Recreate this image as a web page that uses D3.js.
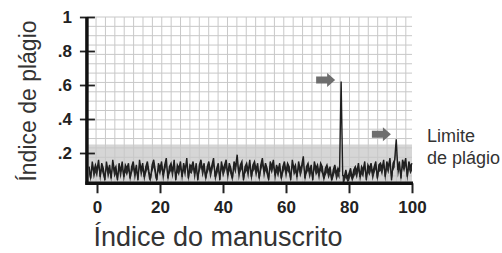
<!DOCTYPE html>
<html>
<head>
<meta charset="utf-8">
<script src="https://cdn.jsdelivr.net/npm/d3@7"></script>
<style>
  body { margin: 0; background: #fff; }
  text { font-family: "Liberation Sans", Arial, sans-serif; }
</style>
</head>
<body>
<div id="container"></div>
<script>
/* CONSTANTS AND GLOBALS */
const width = 502,
    height = 253

// DATA (one value every half index step from -2.5)
const xStart = -2.5, xStep = 0.5
const plagio = [
    0.12, 0.05, 0.15, 0.09, 0.13,
    0.10, 0.16, 0.06, 0.14, 0.11, 0.04, 0.15, 0.09, 0.13, 0.05, 0.16, 0.10, 0.12, 0.04, 0.14, 0.09, 0.15, 0.06, 0.13, 0.11,
    0.14, 0.05, 0.12, 0.15, 0.08, 0.13, 0.04, 0.16, 0.10, 0.14, 0.06, 0.12, 0.15, 0.09, 0.05, 0.13, 0.16, 0.10, 0.04, 0.14,
    0.11, 0.15, 0.07, 0.13, 0.17, 0.05, 0.12, 0.14, 0.09, 0.16, 0.04, 0.13, 0.11, 0.15, 0.06, 0.14, 0.10, 0.17, 0.05, 0.13,
    0.12, 0.15, 0.08, 0.14, 0.04, 0.13, 0.16, 0.10, 0.14, 0.05, 0.12, 0.15, 0.09, 0.13, 0.17, 0.06, 0.11, 0.14, 0.04, 0.15,
    0.10, 0.13, 0.16, 0.07, 0.14, 0.11, 0.05, 0.15, 0.12, 0.19, 0.08, 0.13, 0.15, 0.04, 0.12, 0.14, 0.09, 0.16, 0.06, 0.13,
    0.15, 0.10, 0.14, 0.05, 0.13, 0.17, 0.09, 0.14, 0.11, 0.04, 0.15, 0.12, 0.16, 0.07, 0.13, 0.10, 0.14, 0.05, 0.12, 0.15,
    0.09, 0.14, 0.12, 0.04, 0.16, 0.11, 0.13, 0.06, 0.15, 0.10, 0.13, 0.18, 0.05, 0.12, 0.14, 0.09, 0.13, 0.04, 0.15, 0.11,
    0.13, 0.08, 0.14, 0.12, 0.05, 0.11, 0.13, 0.09, 0.12, 0.04, 0.10, 0.13, 0.08, 0.11, 0.09, 0.62, 0.07, 0.06, 0.10, 0.05,
    0.08, 0.11, 0.05, 0.10, 0.12, 0.09, 0.14, 0.06, 0.12, 0.10, 0.15, 0.04, 0.13, 0.11, 0.14, 0.08, 0.12, 0.15, 0.05, 0.13,
    0.14, 0.11, 0.16, 0.06, 0.15, 0.12, 0.17, 0.04, 0.14, 0.16, 0.28, 0.10, 0.15, 0.05, 0.16, 0.13, 0.17, 0.06, 0.15, 0.12,
    0.14
]
const xTicks = [0, 20, 40, 60, 80, 100]
const yTicks = [0.2, 0.4, 0.6, 0.8, 1]
const yTickLabels = [".2", ".4", ".6", ".8", "1"]
const limite = 0.25
const arrows = [{ x: 75.6, y: 0.63 }, { x: 93.3, y: 0.31 }]

const data = plagio.map((v, i) => ({ idx: xStart + i * xStep, value: v }))

//SCALE
const xScale = d3.scaleLinear()
    .domain([0, 100])
    .range([97, 412])

const yScale = d3.scaleLinear()
    .domain([0, 1])
    .range([187, 17])

const axisX = xScale(-3.2)
const axisY = yScale(0.022)
const right = xScale(100)

//SVG
const svg = d3.select("#container")
    .append("svg")
    .attr("width", width)
    .attr("height", height)
    .style("background-color", "white")

// SHADED BAND (limite de plagio)
svg.append("rect")
    .attr("x", axisX)
    .attr("y", yScale(limite))
    .attr("width", right - axisX)
    .attr("height", axisY - yScale(limite))
    .attr("fill", "#d6d6d6")

// GRID
const gridX = d3.range(-0.3, 99, 2.98)
const gridY = d3.range(1, 0.02, -0.055)

svg.append("g")
    .selectAll("line")
    .data(gridX)
    .join("line")
    .attr("x1", d => xScale(d))
    .attr("x2", d => xScale(d))
    .attr("y1", yScale(1))
    .attr("y2", axisY)
    .attr("stroke", "#c8c8c8")
    .attr("stroke-width", 1)

svg.append("g")
    .selectAll("line")
    .data(gridY)
    .join("line")
    .attr("x1", axisX)
    .attr("x2", right)
    .attr("y1", d => yScale(d))
    .attr("y2", d => yScale(d))
    .attr("stroke", "#c8c8c8")
    .attr("stroke-width", 1)

// DATA: dark ribbon under the jagged line, then the line itself
const ribbon = d3.area()
    .x(d => xScale(d.idx))
    .y0(d => yScale(Math.max(d.value - 0.045, 0.03)))
    .y1(d => yScale(d.value))

svg.append("path")
    .datum(data)
    .attr("d", ribbon)
    .attr("fill", "#2a2a2a")

const line = d3.line()
    .x(d => xScale(d.idx))
    .y(d => yScale(d.value))

svg.append("path")
    .datum(data)
    .attr("d", line)
    .attr("fill", "none")
    .attr("stroke", "#1e1e1e")
    .attr("stroke-width", 1.4)

// ARROWS
svg.append("g")
    .selectAll("path")
    .data(arrows)
    .join("path")
    .attr("transform", d => "translate(" + xScale(d.x) + "," + yScale(d.y) + ")")
    .attr("d", "M0,0 L-8,-7 L-8,-3.5 L-19,-3.5 L-19,3.5 L-8,3.5 L-8,7 Z")
    .attr("fill", "#6e6e6e")

// AXES
const xAxis = d3.axisBottom(xScale)
    .tickValues(xTicks)
    .tickSize(10)
    .tickPadding(8)

const gx = svg.append("g")
    .attr("transform", "translate(0," + axisY + ")")
    .call(xAxis)
gx.select(".domain").remove()
gx.selectAll(".tick line").attr("stroke", "#222").attr("stroke-width", 2)
gx.selectAll(".tick text")
    .style("font-size", "17px")
    .style("font-weight", "bold")
    .attr("fill", "#222")

const yAxis = d3.axisLeft(yScale)
    .tickValues(yTicks)
    .tickFormat((d, i) => yTickLabels[i])
    .tickSize(7)
    .tickPadding(8)

const gy = svg.append("g")
    .attr("transform", "translate(" + axisX + ",0)")
    .call(yAxis)
gy.select(".domain").remove()
gy.selectAll(".tick line")
    .attr("x1", -7)
    .attr("x2", 8)
    .attr("stroke", "#222")
    .attr("stroke-width", 1.8)
gy.selectAll(".tick text")
    .style("font-size", "17px")
    .style("font-weight", "bold")
    .attr("fill", "#222")

// AXES LINES (thick)
svg.append("line")
    .attr("x1", axisX).attr("x2", axisX)
    .attr("y1", yScale(1)).attr("y2", axisY + 1.5)
    .attr("stroke", "#111")
    .attr("stroke-width", 3.5)

svg.append("line")
    .attr("x1", axisX - 1.5).attr("x2", right + 1)
    .attr("y1", axisY).attr("y2", axisY)
    .attr("stroke", "#111")
    .attr("stroke-width", 3.5)

// LABELS
svg.append("text")
    .attr("transform", "translate(" + 36 + "," + 101 + ") rotate(-90)")
    .attr("text-anchor", "middle")
    .style("font-size", "23px")
    .attr("fill", "#333")
    .text("Índice de plágio")

svg.append("text")
    .attr("x", 218)
    .attr("y", 246)
    .attr("text-anchor", "middle")
    .style("font-size", "27px")
    .attr("fill", "#333")
    .text("Índice do manuscrito")

svg.append("text")
    .attr("x", 427)
    .attr("y", 142)
    .style("font-size", "18px")
    .attr("fill", "#333")
    .text("Limite")

svg.append("text")
    .attr("x", 427)
    .attr("y", 164)
    .style("font-size", "18px")
    .attr("fill", "#333")
    .text("de plágio")
</script>
</body>
</html>
